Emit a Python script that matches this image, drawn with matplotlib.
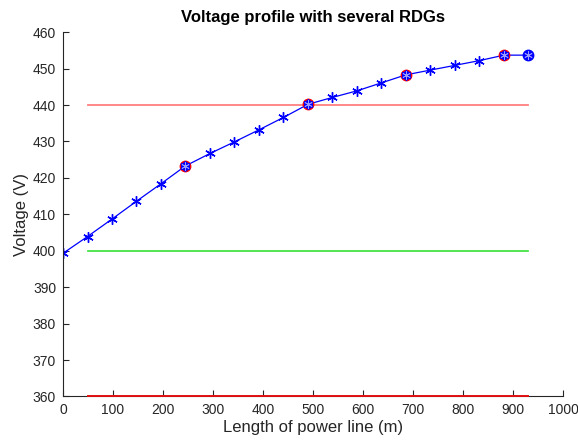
import matplotlib
matplotlib.use('Agg')
import matplotlib.pyplot as plt
import numpy as np

plt.rcParams['font.family'] = ['Liberation Sans', 'DejaVu Sans']

# node positions along the line (m) and measured voltages (V)
length_m = [0, 49, 98, 147, 196, 245, 294, 343, 392, 441,
            490, 539, 588, 637, 686, 735, 784, 833, 882, 931]
voltage = [399.3, 403.9, 408.7, 413.6, 418.4, 423.3, 426.7, 429.9, 433.2, 436.6,
           440.2, 442.1, 443.9, 446.1, 448.3, 449.6, 450.9, 452.2, 453.7, 453.7]

# nodes where an RDG is connected (indices into the arrays above)
rdg_nodes = [5, 10, 14, 18]
last_node = 19

# voltage limits drawn along the line
upper_limit = 440
nominal = 400
lower_limit = 360
limit_start = 49
limit_end = 931

fig = plt.figure(figsize=(5.78, 4.41), dpi=100)
ax = fig.add_axes([0.109, 0.101, 0.865, 0.826])

ax.plot([limit_start, limit_end], [upper_limit, upper_limit], color='#ff7f7f', lw=1.3)
ax.plot([limit_start, limit_end], [nominal, nominal], color='#33e033', lw=1.2)
ax.plot([limit_start, limit_end], [lower_limit, lower_limit], color='#e01010', lw=1.4,
        clip_on=False, zorder=5)

ax.plot(length_m, voltage, color='blue', lw=0.9)

for i in rdg_nodes:
    ax.plot(length_m[i], voltage[i], 'o', ms=7.5, mfc='blue', mec='red', mew=1.0)
ax.plot(length_m[last_node], voltage[last_node], 'o', ms=7.5, mfc='blue', mec='blue', mew=1.0)

# asterisk markers at every node
ax.plot(length_m, voltage, linestyle='none', marker=(6, 2, 0), color='blue', ms=7.5, mew=1.0)

# lighter asterisks so the pattern shows on the filled circles
circ = rdg_nodes + [last_node]
ax.plot([length_m[i] for i in circ], [voltage[i] for i in circ], linestyle='none',
        marker=(6, 2, 0), color='#9a9aff', ms=6, mew=0.6)

ax.set_xlim(0, 1000)
ax.set_ylim(360, 460)
ax.set_xticks(np.arange(0, 1001, 100))
ax.set_yticks(np.arange(360, 461, 10))

ax.spines['top'].set_visible(False)
ax.spines['right'].set_visible(False)
ax.spines['left'].set_color('#262626')
ax.spines['bottom'].set_color('#262626')
ax.tick_params(direction='in', length=4, width=0.8, colors='#262626', labelsize=10, pad=5)

ax.set_title('Voltage profile with several RDGs', fontsize=12, fontweight='bold', pad=7)
ax.set_xlabel('Length of power line (m)', fontsize=12, color='#262626', labelpad=2)
ax.set_ylabel('Voltage (V)', fontsize=12, color='#262626', labelpad=3)

fig.savefig('out.png', dpi=100)
